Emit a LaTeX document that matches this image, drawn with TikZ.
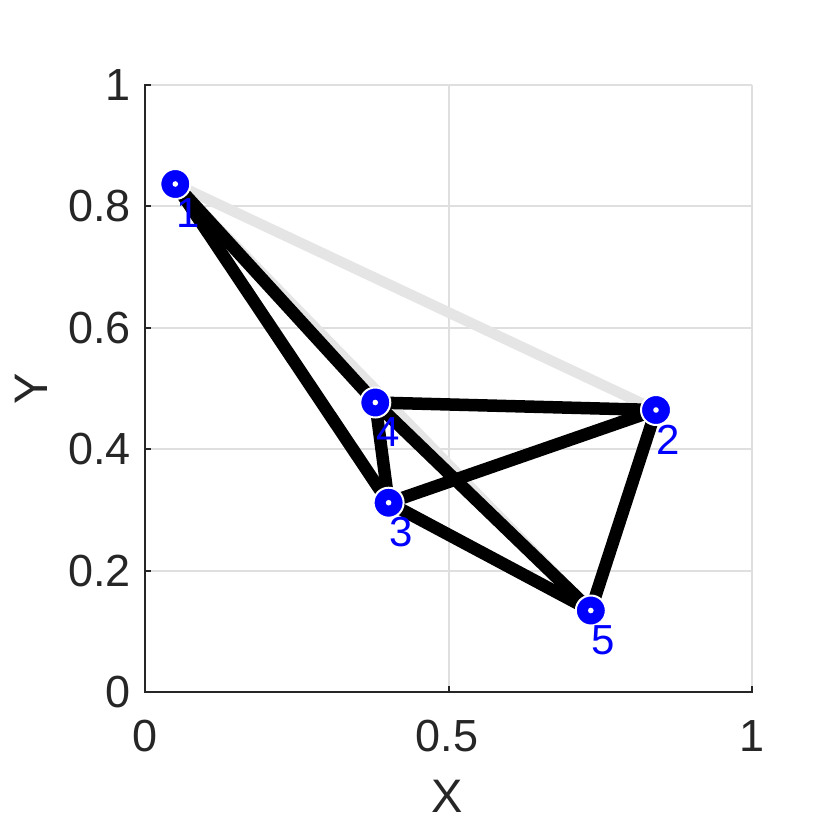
\documentclass[tikz,border=0pt]{standalone}
\usepackage{fontspec}
\setmainfont{Liberation Sans}
\definecolor{gridc}{RGB}{223,223,223}
\definecolor{axc}{RGB}{38,38,38}
\definecolor{edgegrey}{RGB}{229,229,229}
\definecolor{nodeblue}{RGB}{0,0,255}
\begin{document}
\begin{tikzpicture}[x=1pt,y=-1pt,
  gridline/.style={draw=gridc, line width=2pt},
  axisline/.style={draw=axc, line width=2pt},
  tickline/.style={draw=axc, line width=2pt},
  edge/.style={draw=black, line width=12.5pt},
  faint/.style={draw=edgegrey, line width=10.5pt},
  vert/.style={circle, fill=nodeblue, draw=white, line width=2pt, minimum size=30pt, inner sep=0pt},
  vlab/.style={text=nodeblue, font=\fontsize{42}{42}\selectfont, inner sep=0pt},
  ticklab/.style={text=axc, font=\fontsize{45}{45}\selectfont, inner sep=0pt},
  axlab/.style={text=axc, font=\fontsize{47}{47}\selectfont, inner sep=0pt},
]
\useasboundingbox (0,0) rectangle (830,830);
\fill[white] (0,0) rectangle (830,830);
% grid
\foreach \gy in {85,206.4,327.8,449.2,570.6} \draw[gridline] (145,\gy) -- (752,\gy);
\foreach \gx in {448.5,752} \draw[gridline] (\gx,85) -- (\gx,692);
% axes
\draw[axisline] (145,84) -- (145,692) -- (753,692);
\foreach \gy in {85,206.4,327.8,449.2,570.6} \draw[tickline] (145,\gy) -- (151,\gy);
\foreach \gx in {448.5,752} \draw[tickline] (\gx,692) -- (\gx,686);
% tick labels
\node[ticklab, anchor=east] (y0) at (131,692) {0};
\node[ticklab, anchor=east] (y2) at (131,570.6) {0.2};
\node[ticklab, anchor=east] (y4) at (131,449.2) {0.4};
\node[ticklab, anchor=east] (y6) at (131,327.8) {0.6};
\node[ticklab, anchor=east] (y8) at (131,206.4) {0.8};
\node[ticklab, anchor=east] (y10) at (131,85) {1};
\node[ticklab] (x0) at (145,736) {0};
\node[ticklab] (x5) at (447,736) {0.5};
\node[ticklab] (x10) at (752,736) {1};
\node[axlab] (xl) at (447.5,796) {X};
\node[axlab, rotate=90] (yl) at (31.5,389) {Y};
% vertex positions
\coordinate (p1) at (175.3,184);
\coordinate (p2) at (656,410);
\coordinate (p3) at (388.6,502.7);
\coordinate (p4) at (375.3,402.5);
\coordinate (p5) at (590.8,610.5);
% edges
\draw[faint] (p1) -- (p2);
\draw[faint] (p1) -- (p5);
\draw[edge] (p1) -- (p4);
\draw[edge] (p1) -- (p3);
\draw[edge] (p4) -- (p2);
\draw[edge] (p4) -- (p3);
\draw[edge] (p4) -- (p5);
\draw[edge] (p3) -- (p2);
\draw[edge] (p3) -- (p5);
\draw[edge] (p2) -- (p5);
% vertices
\foreach \i in {1,...,5} {
  \node[vert] (n\i) at (p\i) {};
  \fill[white] (n\i.center) circle (2.8);
}
% labels
\foreach \i in {1,...,5} {
  \node[vlab, xshift=12.5pt, yshift=-29.5pt] (l\i) at (p\i) {\i};
}
\end{tikzpicture}
\end{document}
